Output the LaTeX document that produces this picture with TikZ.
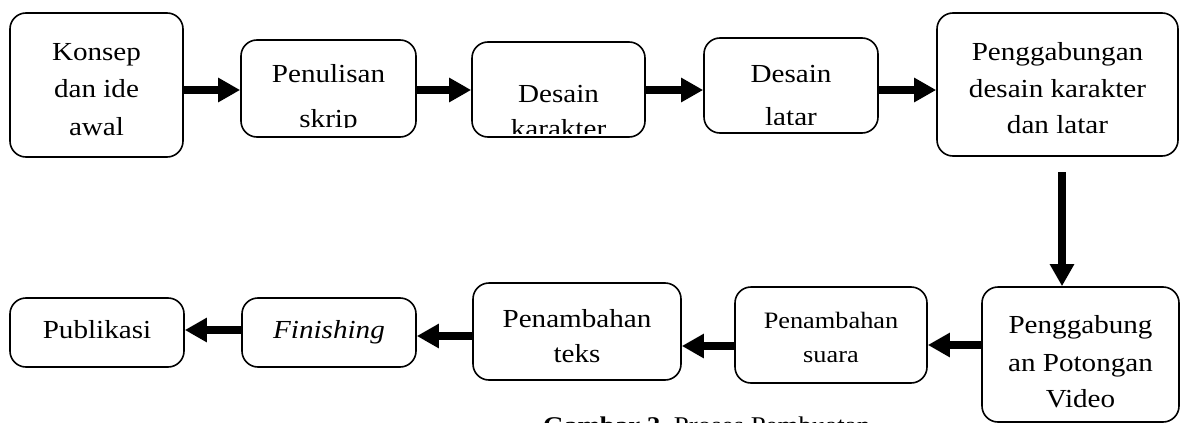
\documentclass[tikz,border=0pt]{standalone}
\usepackage{fontspec}
\setmainfont{Liberation Serif}[FakeStretch=1.12]
\usetikzlibrary{arrows.meta}
\tikzset{
  box/.style={draw, line width=1.6pt, rounded corners=16pt, inner sep=0pt},
  txt/.style={anchor=base, inner sep=0pt, font=\fontsize{26}{30}\selectfont},
  txts/.style={anchor=base, inner sep=0pt, font=\fontsize{23.5}{28}\selectfont},
  arr/.style={line width=7.5pt, -{Triangle[length=22pt,width=23pt]}},
}
\begin{document}
\begin{tikzpicture}[x=1pt,y=-1pt]
\useasboundingbox (0,0) rectangle (1181,423);
% boxes, top row
\node[box, minimum width=173pt, minimum height=144pt] (b1) at (96.5,85) {};
\node[box, minimum width=175pt, minimum height=97pt] (b2) at (328.5,88.5) {};
\node[box, minimum width=173pt, minimum height=95pt] (b3) at (558.5,89.5) {};
\node[box, minimum width=174pt, minimum height=95pt] (b4) at (791,85.5) {};
\node[box, minimum width=241pt, minimum height=143pt] (b5) at (1057.5,84.5) {};
% boxes, bottom row
\node[box, minimum width=197pt, minimum height=135pt] (b6) at (1080.5,354.5) {};
\node[box, minimum width=192pt, minimum height=96pt] (b7) at (831,335) {};
\node[box, minimum width=208pt, minimum height=97pt] (b8) at (577,331.5) {};
\node[box, minimum width=174pt, minimum height=69pt] (b9) at (329,332.5) {};
\node[box, minimum width=174pt, minimum height=69pt] (b10) at (97,332.5) {};
% texts
\node[txt] (t1a) at (96.5,60) {Konsep};
\node[txt] (t1b) at (96.5,97) {dan ide};
\node[txt] (t1c) at (96.5,135) {awal};
\node[txt] (t2a) at (328.5,82) {Penulisan};
\begin{scope}
  \clip (241,40) rectangle (416,127.5);
  \node[txt] (t2b) at (328.5,127) {skrip};
\end{scope}
\node[txt] (t3a) at (558.5,102) {Desain};
\begin{scope}
  \clip (472,42) rectangle (645,133);
  \node[txt] (t3b) at (558.5,137) {karakter};
\end{scope}
\node[txt] (t4a) at (791,82) {Desain};
\begin{scope}
  \clip (704,38) rectangle (878,124);
  \node[txt] (t4b) at (791,125) {latar};
\end{scope}
\node[txt] (t5a) at (1057.5,60) {Penggabungan};
\node[txt] (t5b) at (1057.5,97) {desain karakter};
\node[txt] (t5c) at (1057.5,133) {dan latar};
\node[txt] (t6a) at (1080.5,333) {Penggabung};
\node[txt] (t6b) at (1080.5,371) {an Potongan};
\node[txt] (t6c) at (1080.5,407) {Video};
\node[txts] (t7a) at (831,328) {Penambahan};
\node[txts] (t7b) at (831,362) {suara};
\node[txt] (t8a) at (577,327) {Penambahan};
\node[txt] (t8b) at (577,362) {teks};
\node[txt] (t9) at (329,338) {\itshape Finishing};
\node[txt] (t10) at (97,338) {Publikasi};
% caption (cut by the page edge, as in the reference)
\node[anchor=base west, inner sep=0pt, font=\fontsize{24}{28}\selectfont] (cap) at (543,433) {\bfseries Gambar 2.\mdseries\ Proses Pembuatan};
% arrows
\draw[arr] (b1.east |- 0,90) -- (b2.west |- 0,90);
\draw[arr] (b2.east |- 0,90) -- (b3.west |- 0,90);
\draw[arr] (b3.east |- 0,90) -- (b4.west |- 0,90);
\draw[arr] (b4.east |- 0,90) -- (b5.west |- 0,90);
\coordinate (vs) at (1062,172);
\draw[arr] (vs) -- (vs |- b6.north);
\draw[arr] (b6.west |- 0,345) -- (b7.east |- 0,345);
\draw[arr] (b7.west |- 0,346) -- (b8.east |- 0,346);
\draw[arr] (b8.west |- 0,336) -- (b9.east |- 0,336);
\draw[arr] (b9.west |- 0,330) -- (b10.east |- 0,330);
\end{tikzpicture}
\end{document}
